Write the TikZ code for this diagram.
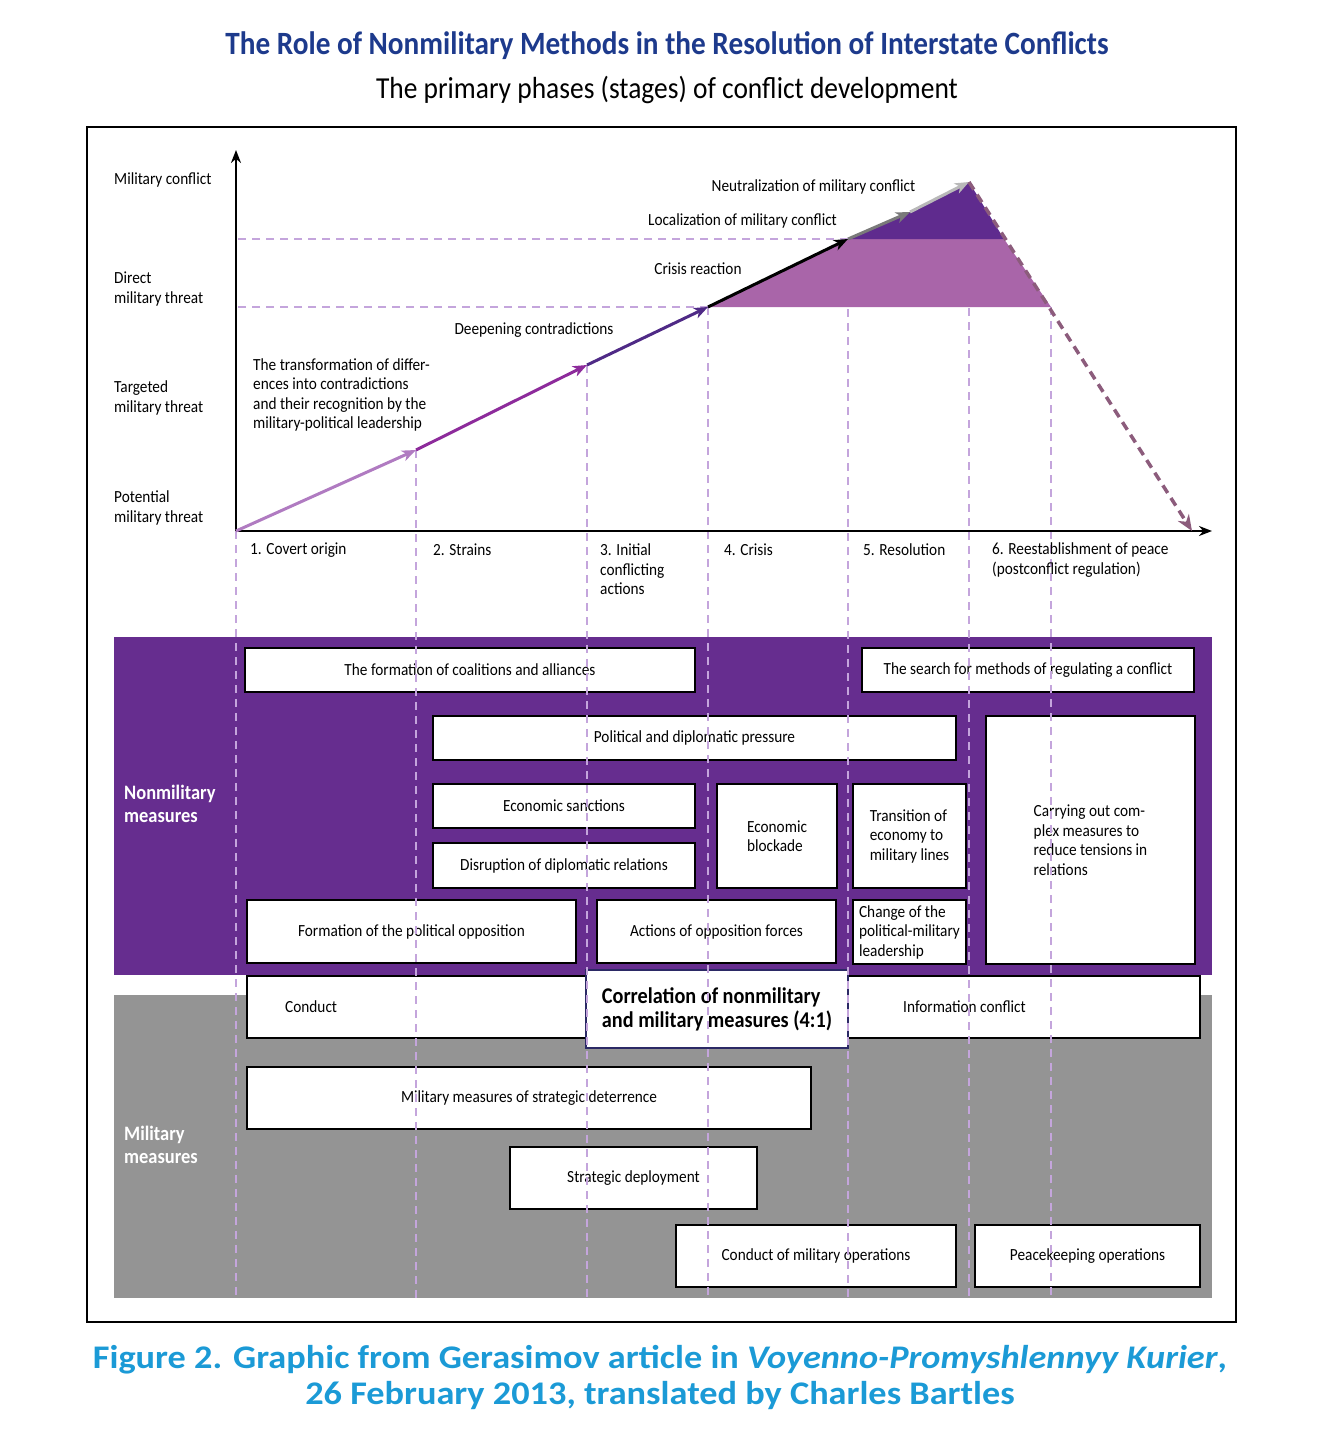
\documentclass[tikz,border=0pt]{standalone}
\usepackage{fontspec}
\setmainfont{Carlito}[FakeStretch=0.9]
\newfontfamily\capfont{Carlito}[FakeStretch=1.1]
\usepackage{tikz}
\usetikzlibrary{arrows.meta,positioning}

\definecolor{titleblue}{HTML}{1D3A8C}
\definecolor{capblue}{HTML}{1B9AD6}
\definecolor{nonmil}{HTML}{662D8F}
\definecolor{milgray}{HTML}{949494}
\definecolor{guidepurple}{HTML}{C4A5DC}
\definecolor{segone}{HTML}{B07BC1}
\definecolor{segtwo}{HTML}{8D2B9B}
\definecolor{segthree}{HTML}{4F2A86}
\definecolor{segfive}{HTML}{7A7A7A}
\definecolor{segsix}{HTML}{B9B9B9}
\definecolor{descmauve}{HTML}{8C5C7C}
\definecolor{lightfill}{HTML}{A965A9}
\definecolor{darkfill}{HTML}{5F2B8E}
\definecolor{corrnavy}{HTML}{2B2965}

\begin{document}
\begin{tikzpicture}[x=1pt,y=-1pt,font=\fontsize{17}{19.5}\selectfont]
      \tikzset{box/.style={draw=black,fill=white,line width=1.2pt,inner sep=2pt,align=center},
               lbl/.style={inner sep=0pt,align=left,anchor=west},
               bandlbl/.style={lbl,text=white,font=\fontsize{20.5}{23}\selectfont\bfseries},
               caplbl/.style={inner sep=0pt,text=capblue,font=\capfont\fontsize{33}{35}\selectfont\bfseries},
               guide/.style={draw=guidepurple,line width=1.3pt,dash pattern=on 8pt off 6pt},
               seg/.style={line width=3pt,-{Stealth[length=14pt,width=11pt,inset=4pt]}},
               axis/.style={line width=2.5pt,-{Stealth[length=13pt,width=10pt]}}}
      \useasboundingbox (0,0) rectangle (1320,1435);

      \node[text=titleblue,font=\fontsize{32.5}{36}\selectfont\bfseries] (title) at (667,46)
        {The Role of Nonmilitary Methods in the Resolution of Interstate Conflicts};
      \node[font=\fontsize{30.5}{34}\selectfont] (subtitle) at (667,90)
        {The primary phases (stages) of conflict development};
      \node[caplbl] (caption1) at (660,1360)
        {Figure 2. Graphic from Gerasimov article in \textit{Voyenno-Promyshlennyy Kurier},};
      \node[caplbl] (caption2) at (660,1395)
        {26 February 2013, translated by Charles Bartles};

      \draw[line width=2pt] (87,127) rectangle (1236,1322);

      \coordinate (p0) at (236,531);
      \coordinate (p1) at (416,450);
      \coordinate (p2) at (587,365);
      \coordinate (p3) at (708,307);
      \coordinate (p4) at (848,239);
      \coordinate (p5) at (910,212);
      \coordinate (p6) at (969,182);
      \coordinate (p7) at (1192,531);
      \coordinate (q4) at (1004,239);
      \coordinate (q3) at (1051,307);
      \coordinate (ytop) at (236,150);
      \coordinate (xend) at (1212,531);
      \coordinate (bot) at (0,1298);

      \fill[nonmil] (114,637) rectangle (1212,975);
      \fill[milgray] (114,995) rectangle (1212,1298);

      \node[bandlbl] (nonmillbl) at (124,804) {Nonmilitary\\measures};
      \node[bandlbl] (millbl) at (124,1145) {Military\\measures};

      \node[box,minimum width=450,minimum height=44] (coal) at (470,670) {The formation of coalitions and alliances};
      \node[box,minimum width=332,minimum height=44] (search) at (1028,670) {The search for methods of regulating a conflict};
      \node[box,minimum width=523,minimum height=44] (pressure) at (694.5,738) {Political and diplomatic pressure};
      \node[box,align=left,minimum width=209,minimum height=248] (tension) at (1090.5,840)
        {Carrying out com-\\plex measures to\\reduce tensions in\\relations};
      \node[box,minimum width=262,minimum height=44] (sanctions) at (564,806) {Economic sanctions};
      \node[box,minimum width=262,minimum height=45] (disrupt) at (564,865.5) {Disruption of diplomatic relations};
      \node[box,align=left,minimum width=120,minimum height=104] (blockade) at (777,836) {Economic\\blockade};
      \node[box,align=left,minimum width=113,minimum height=104] (transition) at (909.5,836)
        {Transition of\\economy to\\military lines};
      \node[box,minimum width=329,minimum height=63] (oppform) at (411.5,931.5) {Formation of the political opposition};
      \node[box,minimum width=239,minimum height=63] (oppact) at (716.5,931.5) {Actions of opposition forces};
      \node[box,align=left,inner sep=1pt,minimum width=113,minimum height=64] (change) at (909.5,932)
        {Change of the\\political-military\\leadership};

      \node[box,minimum width=953,minimum height=62] (infobox) at (723.5,1007) {};
      \node[lbl] (conduct) at (285,1007) {Conduct};
      \node (info) at (964.5,1007) {Information conflict};
      \node[box,draw=corrnavy,line width=2pt,align=left,minimum width=262,minimum height=78,
            font=\fontsize{22.5}{24}\selectfont\bfseries] (corr) at (717,1009)
        {Correlation of nonmilitary\\and military measures (4:1)};

      \node[box,minimum width=564,minimum height=62] (deter) at (529,1098) {Military measures of strategic deterrence};
      \node[box,minimum width=247,minimum height=62] (deploy) at (633.5,1178) {Strategic deployment};
      \node[box,minimum width=280,minimum height=62] (ops) at (816,1256) {Conduct of military operations};
      \node[box,minimum width=225,minimum height=62] (peace) at (1087.5,1256) {Peacekeeping operations};

      \foreach \p in {p0,p1,p2,p3,p4,p6,q3}
        \draw[guide] (\p) -- (\p |- bot);
      \draw[guide] (p4) -- (p0 |- p4);
      \draw[guide] (p3) -- (p0 |- p3);

      \fill[lightfill] (p3) -- (p4) -- (q4) -- (q3) -- cycle;
      \fill[darkfill] (p4) -- (p5) -- (p6) -- (q4) -- cycle;

      \draw[axis] (p0) -- (ytop);
      \draw[axis] (p0) -- (xend);

      \draw[seg,draw=segone] (p0) -- (p1);
      \draw[seg,draw=segtwo] (p1) -- (p2);
      \draw[seg,draw=segthree] (p2) -- (p3);
      \draw[seg,draw=black] (p3) -- (p4);
      \draw[seg,draw=segfive] (p4) -- (p5);
      \draw[seg,draw=segsix] (p5) -- (p6);
      \draw[line width=3.5pt,draw=descmauve,dash pattern=on 9pt off 6pt,
            -{Stealth[length=16pt,width=13pt,inset=5pt]}] (p6) -- (p7);

      \node[lbl] (ymc) at (114,180) {Military conflict};
      \node[lbl] (ydt) at (114,289) {Direct\\military threat};
      \node[lbl] (ytt) at (114,398) {Targeted\\military threat};
      \node[lbl] (ypt) at (114,508) {Potential\\military threat};

      \node[lbl] (transform) at (253,395)
        {The transformation of differ-\\ences into contradictions\\and their recognition by the\\military-political leadership};
      \node (deepen) at (534,330) {Deepening contradictions};
      \node (crisisre) at (698,269) {Crisis reaction};
      \node (localize) at (742.5,221) {Localization of military conflict};
      \node (neutral) at (813.5,187) {Neutralization of military conflict};

      \node[lbl] (ph1) at (250,550) {1. Covert origin};
      \node[lbl] (ph2) at (433,550) {2. Strains};
      \node[lbl] (ph3) at (600,569.5) {3. Initial\\conflicting\\actions};
      \node[lbl] (ph4) at (724,550) {4. Crisis};
      \node[lbl] (ph5) at (863,550) {5. Resolution};
      \node[lbl] (ph6) at (992,560) {6. Reestablishment of peace\\(postconflict regulation)};
\end{tikzpicture}
\end{document}
